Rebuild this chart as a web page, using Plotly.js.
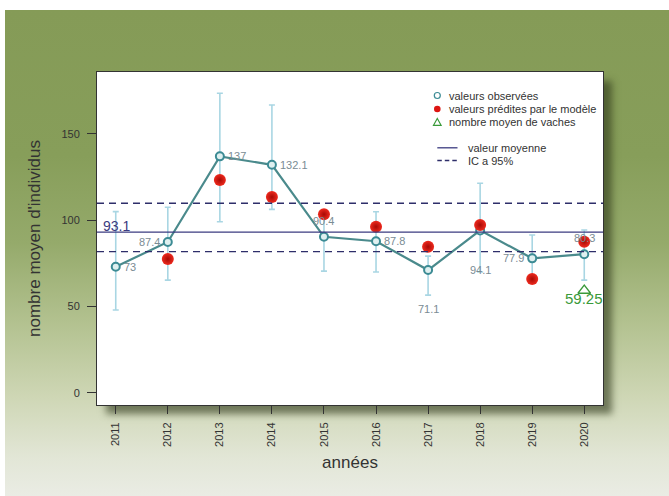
<!DOCTYPE html>
<html>
<head>
<meta charset="utf-8">
<script src="https://cdn.plot.ly/plotly-3.0.1.min.js"></script>
<style>
  html, body { margin:0; padding:0; background:#ffffff; width:669px; height:496px; overflow:hidden; }
  #bg { position:absolute; left:5px; top:10px; width:664px; height:486px;
        background: linear-gradient(to bottom, #859b57 0%, #879e5a 30%, #95aa6b 48%, #b2c18f 64%, #cfd7b6 80%, #e2e6d6 92%, #eaece4 100%); }
  #shadow { position:absolute; left:97px; top:72px; width:506px; height:333px; background:#ffffff;
        box-shadow: 9px 9px 7px rgba(45,55,25,0.6); }
  #plot { position:absolute; left:0; top:0; width:669px; height:496px; }
</style>
</head>
<body>
<div id="bg"></div>
<div id="shadow"></div>
<div id="plot"></div>
<script>
// ---------------- data ----------------
const years      = [2011, 2012, 2013, 2014, 2015, 2016, 2017, 2018, 2019, 2020];
const observed   = [73, 87.4, 137, 132.1, 90.4, 87.8, 71.1, 94.1, 77.9, 80.3];
const obsLabels  = ['73', '87.4', '137', '132.1', '90.4', '87.8', '71.1', '94.1', '77.9', '80.3'];
const barUpper   = [105, 107.5, 173.6, 166.8, 103, 104.9, 79.2, 121.4, 91.4, 94.3];
const barLower   = [48, 65.3, 99.1, 106.3, 70.5, 70, 56.6, 70, 65.5, 65.3];
const predicted  = [null, 77.5, 123.3, 113.4, 103.4, 96.2, 84.6, 97.2, 65.9, 87.5];
const cowYears   = [2020];
const cowValues  = [59.25];
const cowLabels  = ['59.25'];
const meanValue  = 93.1;
const meanLabel  = '93.1';
const icBounds   = [81.8, 109.8];
const yTicks     = [0, 50, 100, 150];
const legendTexts = ['valeurs observées', 'valeurs prédites par le modèle', 'nombre moyen de vaches', 'valeur moyenne', 'IC a 95%'];

// ---------------- styles ----------------
const FONT = 'Liberation Sans, Arial, Helvetica, sans-serif';
const teal = '#4a8a8c';
const tealMarker = '#3c8b94';
const barColor = '#a9d6e3';
const navy = '#3b3b80';
const green = '#3a9a3a';
const labelGray = '#7a8c94';

// plot area in pixels
const L = 97, T = 72, W = 506, H = 333;
const fx = px => (px - L) / W;
const fy = py => (T + H - py) / H;

// label placement (style only)
const labelPlace = [
  {xa:'left',  dx: 6,  dy: 0},
  {xa:'right', dx:-6,  dy: 0},
  {xa:'left',  dx: 6,  dy: 0},
  {xa:'left',  dx: 6,  dy: 0},
  {xa:'center',dx: 0,  dy: 16},
  {xa:'left',  dx: 6,  dy: 0},
  {xa:'center',dx: 0,  dy:-39},
  {xa:'center',dx: 0,  dy:-40},
  {xa:'right', dx:-6,  dy: 0},
  {xa:'center',dx: 0,  dy: 16.5}
];

const traces = [
  { // error bars
    x: years, y: observed, type: 'scatter', mode: 'markers',
    marker: {size: 1, color: 'rgba(0,0,0,0)'},
    error_y: {type: 'data', symmetric: false,
      array: observed.map((v, i) => barUpper[i] - v),
      arrayminus: observed.map((v, i) => v - barLower[i]),
      color: barColor, thickness: 1.6, width: 3},
    hoverinfo: 'skip', showlegend: false
  },
  { // observed
    x: years, y: observed, type: 'scatter', mode: 'lines+markers',
    line: {color: teal, width: 2.2},
    marker: {symbol: 'circle', size: 8, color: '#dff0f0', line: {color: tealMarker, width: 2}},
    showlegend: false
  },
  { // predicted
    x: years, y: predicted, type: 'scatter', mode: 'markers',
    marker: {symbol: 'circle', size: 12, color: '#ee2a1e',
      gradient: {type: 'radial', color: '#a80a05'}, line: {width: 0}},
    showlegend: false
  },
  { // cows
    x: cowYears, y: cowValues, type: 'scatter', mode: 'markers',
    marker: {symbol: 'triangle-up-open', size: 11, color: green, line: {width: 1.3}},
    showlegend: false
  }
];

const annotations = [];
years.forEach((yr, i) => {
  const p = labelPlace[i];
  annotations.push({x: yr, y: observed[i], xref: 'x', yref: 'y', text: obsLabels[i],
    showarrow: false, xanchor: p.xa, yanchor: 'middle', xshift: p.dx, yshift: p.dy,
    font: {family: FONT, size: 11, color: labelGray}});
});
annotations.push({x: 0, y: meanValue, xref: 'paper', yref: 'y', text: meanLabel, showarrow: false,
  xanchor: 'left', yanchor: 'middle', xshift: 4, yshift: 6, font: {family: FONT, size: 14, color: navy}});
cowYears.forEach((yr, i) => {
  annotations.push({x: yr, y: cowValues[i], xref: 'x', yref: 'y', text: cowLabels[i], showarrow: false,
    xanchor: 'center', yanchor: 'middle', yshift: -8, font: {family: FONT, size: 15, color: green}});
});
// legend texts
const legY = [95.5, 109, 122.3, 147.8, 160.5];
const legX = [446.5, 446.5, 446.5, 466, 466];
legendTexts.forEach((t, i) => {
  annotations.push({x: fx(legX[i]), y: fy(legY[i]), xref: 'paper', yref: 'paper', text: t, showarrow: false,
    xanchor: 'left', yanchor: 'middle', font: {family: FONT, size: 11, color: '#333333'}});
});

const shapes = [
  {type: 'line', xref: 'paper', x0: 0, x1: 1, yref: 'y', y0: meanValue, y1: meanValue,
    line: {color: navy, width: 1.3}},
  {type: 'line', xref: 'paper', x0: 0, x1: 1, yref: 'y', y0: icBounds[0], y1: icBounds[0],
    line: {color: '#2e2e6a', width: 1.4, dash: '7px,5px'}},
  {type: 'line', xref: 'paper', x0: 0, x1: 1, yref: 'y', y0: icBounds[1], y1: icBounds[1],
    line: {color: '#2e2e6a', width: 1.4, dash: '7px,5px'}},
  // legend symbols
  {type: 'circle', xref: 'paper', yref: 'paper', xsizemode: 'pixel', ysizemode: 'pixel',
    xanchor: fx(437.3), yanchor: fy(legY[0]), x0: -3, x1: 3, y0: -3, y1: 3,
    line: {color: tealMarker, width: 1.2}, fillcolor: 'rgba(0,0,0,0)'},
  {type: 'circle', xref: 'paper', yref: 'paper', xsizemode: 'pixel', ysizemode: 'pixel',
    xanchor: fx(437.3), yanchor: fy(legY[1]), x0: -3.3, x1: 3.3, y0: -3.3, y1: 3.3,
    line: {width: 0}, fillcolor: '#dd1512'},
  {type: 'path', xref: 'paper', yref: 'paper', xsizemode: 'pixel', ysizemode: 'pixel',
    xanchor: fx(437.3), yanchor: fy(legY[2]), path: 'M -3.8,-3 L 3.8,-3 L 0,3.8 Z',
    line: {color: green, width: 1.2}, fillcolor: 'rgba(0,0,0,0)'},
  {type: 'line', xref: 'paper', yref: 'paper', x0: fx(437.3), x1: fx(457.5), y0: fy(legY[3]), y1: fy(legY[3]),
    line: {color: navy, width: 1.3}},
  {type: 'line', xref: 'paper', yref: 'paper', x0: fx(437.3), x1: fx(457.5), y0: fy(legY[4]), y1: fy(legY[4]),
    line: {color: '#2e2e6a', width: 1.3, dash: '4.5px,3px'}}
];

const layout = {
  width: 669, height: 496,
  margin: {l: L, r: 669 - L - W, t: T, b: 496 - T - H, pad: 0},
  paper_bgcolor: 'rgba(0,0,0,0)', plot_bgcolor: '#ffffff',
  showlegend: false,
  font: {family: FONT, color: '#333333'},
  xaxis: {
    range: [2010.64, 2020.36], tickmode: 'array', tickvals: years, ticktext: years.map(String),
    tickangle: -90, ticks: 'outside', ticklen: 8, tickwidth: 1, tickcolor: '#333333',
    ticklabelstandoff: 4,
    showgrid: false, zeroline: false, showline: true, mirror: true, linecolor: '#333333', linewidth: 1,
    tickfont: {family: FONT, size: 11, color: '#333333'},
    title: {text: 'années', font: {family: FONT, size: 17, color: '#333333'}, standoff: 10}
  },
  yaxis: {
    range: [-7.1, 185.9], tickmode: 'array', tickvals: yTicks, ticks: 'outside', ticklen: 9,
    tickwidth: 1, tickcolor: '#333333', ticklabelstandoff: 5,
    showgrid: false, zeroline: false, showline: true, mirror: true, linecolor: '#333333', linewidth: 1,
    tickfont: {family: FONT, size: 11, color: '#333333'},
    title: {text: "nombre moyen d'individus", font: {family: FONT, size: 17, color: '#333333'}, standoff: 16}
  },
  annotations: annotations,
  shapes: shapes
};

Plotly.newPlot('plot', traces, layout, {staticPlot: true, displayModeBar: false});
</script>
</body>
</html>
